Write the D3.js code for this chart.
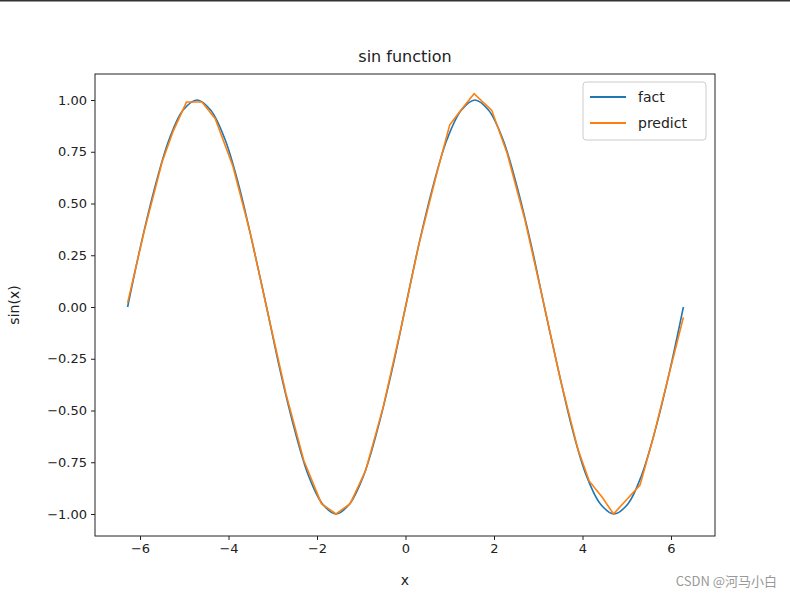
<!DOCTYPE html>
<html><head><meta charset="utf-8">
<script src="https://cdn.jsdelivr.net/npm/d3@7"></script>
<style>body{margin:0;background:#fff}text{font-family:"DejaVu Sans",sans-serif}</style>
</head><body>
<svg id="c" width="790" height="599"></svg>
<script>
// fact curve
var factX = [-6.28,-5.97,-5.65,-5.34,-5.03,-4.71,-4.40,-4.08,-3.77,-3.46,-3.14,-2.83,-2.51,-2.20,-1.88,-1.57,-1.26,-0.94,-0.63,-0.31,0,0.31,0.63,0.94,1.26,1.57,1.88,2.20,2.51,2.83,3.14,3.46,3.77,4.08,4.40,4.71,5.03,5.34,5.65,5.97,6.28];
var factY = [0,0.31,0.59,0.81,0.95,1,0.95,0.81,0.59,0.31,0,-0.31,-0.59,-0.81,-0.95,-1,-0.95,-0.81,-0.59,-0.31,0,0.31,0.59,0.81,0.95,1,0.95,0.81,0.59,0.31,0,-0.31,-0.59,-0.81,-0.95,-1,-0.95,-0.81,-0.59,-0.31,0];
// predict curve
var predX = [-6.28,-5.9,-5.5,-5.25,-4.95,-4.6,-4.3,-3.9,-3.5,-3.1,-2.7,-2.3,-1.9,-1.57,-1.25,-0.9,-0.5,-0.1,0.3,0.7,1.0,1.25,1.55,1.95,2.3,2.7,3.1,3.5,3.9,4.15,4.45,4.7,5.0,5.3,5.6,5.95,6.28];
var predY = [0.02,0.37,0.70,0.85,0.99,0.99,0.91,0.68,0.35,-0.04,-0.42,-0.74,-0.95,-1.0,-0.95,-0.79,-0.48,-0.10,0.30,0.64,0.88,0.95,1.03,0.95,0.74,0.42,0.04,-0.35,-0.69,-0.84,-0.92,-1.0,-0.93,-0.86,-0.63,-0.33,-0.05];
var xTicks = [-6,-4,-2,0,2,4,6];
var yTicks = [-1,-0.75,-0.5,-0.25,0,0.25,0.5,0.75,1];

var svg = d3.select("#c");
svg.append("line").attr("x1",0).attr("x2",790).attr("y1",0.5).attr("y2",0.5).attr("stroke","#333").attr("stroke-width",2);

var L = 95, R = 715, T = 74, B = 536;
var x = d3.scaleLinear().domain([-6,6]).range([140,671]);
var y = d3.scaleLinear().domain([-1,1]).range([514,100]);

var gx = svg.append("g").attr("transform","translate(0,"+B+")")
    .call(d3.axisBottom(x).tickValues(xTicks).tickSize(4).tickPadding(4).tickFormat(function(d){return d<0?"\u2212"+(-d):d;}));
var gy = svg.append("g").attr("transform","translate("+L+",0)")
    .call(d3.axisLeft(y).tickValues(yTicks).tickSize(4).tickPadding(4).tickFormat(function(d){var s=Math.abs(d).toFixed(2);return d<0?"\u2212"+s:s;}));
[gx,gy].forEach(function(g){
    g.select(".domain").remove();
    g.selectAll("text").attr("font-size",13).attr("fill","#222").style("font-family","DejaVu Sans");
    g.selectAll("line").attr("stroke","#222");
});

function draw(xs, ys, col, curve) {
    var pts = xs.map(function(v,i){return [v, ys[i]];});
    svg.append("path").datum(pts)
	.attr("d", d3.line().x(function(d){return x(d[0]);}).y(function(d){return y(d[1]);}).curve(curve))
	.attr("fill","none").attr("stroke",col).attr("stroke-width",1.6);
}
draw(factX, factY, "#1f77b4", d3.curveCatmullRom);
draw(predX, predY, "#ff7f0e", d3.curveLinear);

svg.append("rect").attr("x",L).attr("y",T).attr("width",R-L).attr("height",B-T)
    .attr("fill","none").attr("stroke","#222").attr("stroke-width",1);

svg.append("text").attr("x",(L+R)/2).attr("y",62).attr("text-anchor","middle").attr("font-size",16).attr("fill","#222").text("sin function");
svg.append("text").attr("x",(L+R)/2).attr("y",585).attr("text-anchor","middle").attr("font-size",14).attr("fill","#222").text("x");
svg.append("text").attr("transform","translate(19,"+((T+B)/2)+") rotate(-90)").attr("text-anchor","middle").attr("font-size",14).attr("fill","#222").text("sin(x)");

// legend
var lg = svg.append("g");
lg.append("rect").attr("x",583).attr("y",82).attr("width",123).attr("height",58).attr("rx",3)
    .attr("fill","#fff").attr("stroke","#ccc");
[["fact","#1f77b4"],["predict","#ff7f0e"]].forEach(function(d,i){
    var yy = 97 + i*26;
    lg.append("line").attr("x1",590).attr("x2",626).attr("y1",yy).attr("y2",yy).attr("stroke",d[1]).attr("stroke-width",1.8);
    lg.append("text").attr("x",638).attr("y",yy+5).attr("font-size",14).attr("fill","#222").text(d[0]);
});

svg.append("text").attr("x",777).attr("y",586).attr("text-anchor","end").attr("font-size",13).attr("fill","#999")
    .style("font-family","'Noto Sans CJK SC',sans-serif").text("CSDN @河马小白");
</script>
</body></html>
